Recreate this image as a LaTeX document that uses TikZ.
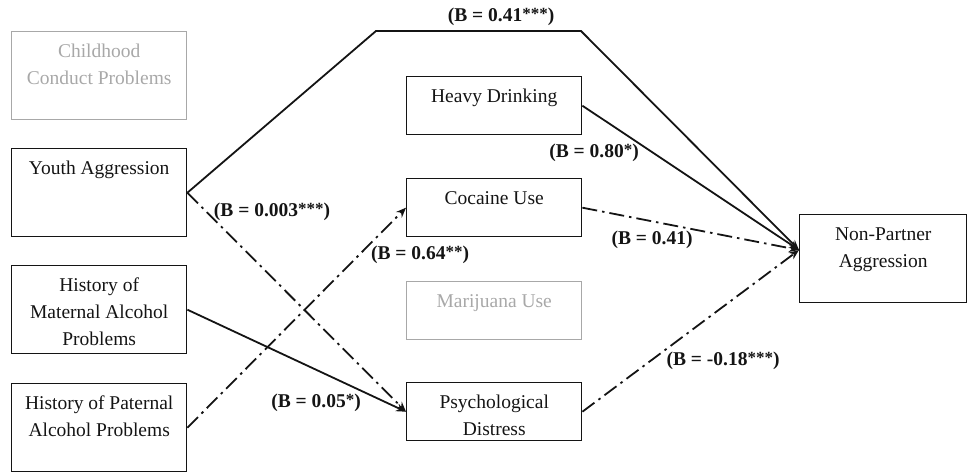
\documentclass[tikz,border=0pt]{standalone}
\usepackage{fontspec}
\setmainfont{Liberation Serif}
\usetikzlibrary{arrows.meta}
\definecolor{ghost}{HTML}{A8A8A8}
\definecolor{ink}{HTML}{141414}
\newcommand\bxc[3]{\parbox[c][#2pt][t]{#1pt}{\centering\vspace*{6.6pt}\strut #3\par}}
\newcommand\stars[1]{{\fontsize{17}{17}\selectfont\raisebox{2.5pt}{#1}}}
\tikzset{
  box/.style={draw=ink, text=ink, line width=1.4pt, rectangle, inner sep=0pt, anchor=north west,
    font=\fontsize{19.5}{27}\selectfont},
  ghostbox/.style={box, draw=ghost, text=ghost},
  lab/.style={inner sep=0pt, text=ink, font=\bfseries\fontsize{19.5}{22}\selectfont},
  conn/.style={draw=ink, line width=1.8pt, -{Stealth[length=10pt,width=8pt]}},
  dd/.style={dash pattern=on 15pt off 5pt on 2.5pt off 5pt},
}
\begin{document}
\begin{tikzpicture}[x=1pt,y=-1pt]
\useasboundingbox (0,0) rectangle (968,473);
% left column
\node[ghostbox] (ccp) at (11,31) {\bxc{175}{88}{Childhood\\Conduct Problems}};
\node[box] (yag) at (11,148) {\bxc{175}{88}{Youth Aggression}};
\node[box] (mat) at (11,265) {\bxc{175}{88}{History of\\Maternal Alcohol\\Problems}};
\node[box] (pat) at (11,383) {\bxc{175}{88}{History of Paternal\\Alcohol Problems}};
% middle column
\node[box] (hvy) at (406,76) {\bxc{175}{58}{Heavy Drinking}};
\node[box] (coc) at (406,178) {\bxc{175}{58}{Cocaine Use}};
\node[ghostbox] (mar) at (406,281) {\bxc{175}{58}{Marijuana Use}};
\node[box] (psy) at (406,382) {\bxc{175}{58}{Psychological\\Distress}};
% outcome
\node[box] (np) at (799,214) {\bxc{167}{88}{Non-Partner\\Aggression}};
\coordinate (npin) at (799,250);
\coordinate (t1) at (376,31);
\coordinate (t2) at (581,31);
% connectors
\draw[conn] (yag.east) -- (t1) -- (t2) -- (npin);
\draw[conn] (hvy.east) -- (npin);
\draw[conn, dd] (coc.east) -- (npin);
\draw[conn, dd] (psy.east) -- (npin);
\draw[conn, dd] (yag.east) -- (psy.west);
\draw[conn] (mat.east) -- (psy.west);
\draw[conn, dd] (pat.east) -- (coc.west);
% labels
\node[lab] (l1) at (501,17) {(B = 0.41\stars{***})};
\node[lab] (l2) at (594,153) {(B = 0.80\stars{*})};
\node[lab] (l3) at (272,212) {(B = 0.003\stars{***})};
\node[lab] (l4) at (420,255) {(B = 0.64\stars{**})};
\node[lab] (l5) at (652,240) {(B = 0.41)};
\node[lab] (l6) at (316,403) {(B = 0.05\stars{*})};
\node[lab] (l7) at (723,361) {(B = -0.18\stars{***})};
\end{tikzpicture}
\end{document}
